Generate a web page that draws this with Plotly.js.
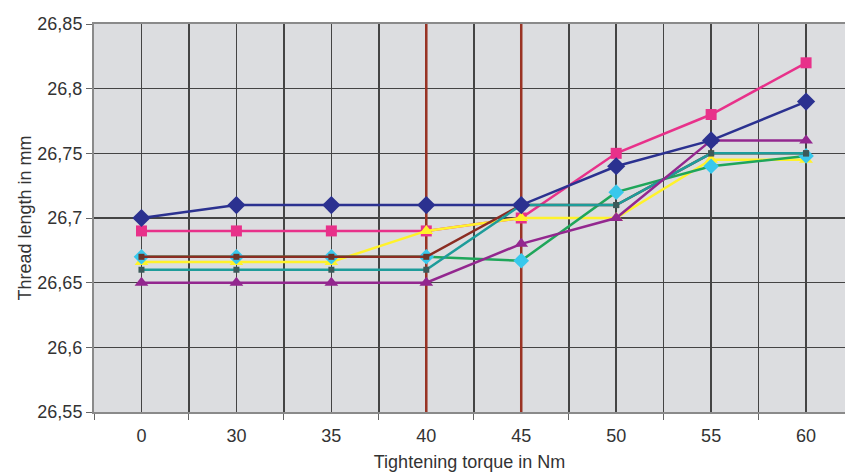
<!DOCTYPE html>
<html><head><meta charset="utf-8">
<script src="https://cdn.plot.ly/plotly-3.0.1.min.js"></script>
<style>html,body{margin:0;padding:0;background:#fff}#chart{width:845px;height:475px}</style>
</head><body><div id="chart"></div>
<script>
const categories = ['0','30','35','40','45','50','55','60'];
const navy      = [26.70, 26.71, 26.71, 26.71, 26.71, 26.74, 26.76, 26.79];
const pink      = [26.69, 26.69, 26.69, 26.69, 26.70, 26.75, 26.78, 26.82];
const yellow    = [26.666, 26.666, 26.666, 26.69, 26.70, 26.70, 26.745, 26.745];
const cyanGreen = [26.67, 26.67, 26.67, 26.67, 26.667, 26.72, 26.74, 26.748];
const brown     = [26.67, 26.67, 26.67, 26.67, 26.71, 26.71, 26.75, 26.75];
const teal      = [26.66, 26.66, 26.66, 26.66, 26.71, 26.71, 26.75, 26.75];
const purple    = [26.65, 26.65, 26.65, 26.65, 26.68, 26.70, 26.76, 26.76];
const markedTorques = ['40', '45'];
const yTickVals = [26.55, 26.6, 26.65, 26.7, 26.75, 26.8, 26.85];

const xIdx = categories.map((_, i) => i);
const boundaries = categories.map((_, i) => i - 0.5).concat([categories.length - 0.5]);
const yMin = yTickVals[0], yMax = yTickVals[yTickVals.length - 1];

function series(y, lineColor, symbol, markerColor, size, lineWidth) {
  return {
    x: xIdx, y: y, type: 'scatter', mode: 'lines+markers',
    line: {color: lineColor, width: lineWidth || 2.5},
    marker: {symbol: symbol, color: markerColor, size: size}
  };
}

const markerLines = markedTorques.map(t => ({
  x: [categories.indexOf(t), categories.indexOf(t)], y: [yMin, yMax],
  type: 'scatter', mode: 'lines', line: {color: '#9a3324', width: 2.5}
}));

const data = markerLines.concat([
  series(pink, '#e8318a', 'square', '#e8318a', 11),
  series(yellow, '#fff22a', 'triangle-up', '#fff22a', 12),
  series(cyanGreen, '#1fa65a', 'diamond', '#38c8ec', 12),
  series(brown, '#8b2c22', 'square', '#6b3428', 6),
  series(teal, '#1e9c9a', 'square', '#3c5a5a', 6),
  series(purple, '#93278f', 'triangle-up', '#93278f', 12),
  series(navy, '#2b3190', 'diamond', '#2b3190', 14)
]);

const layout = {
  width: 845, height: 475,
  margin: {l: 94, r: 0, t: 24, b: 63},
  paper_bgcolor: '#ffffff', plot_bgcolor: '#dcdde0',
  separators: ',.',
  showlegend: false,
  font: {family: 'Liberation Sans, Arial, sans-serif', size: 18, color: '#333333'},
  xaxis: {
    range: [-0.5, 7.41],
    tickvals: xIdx, ticktext: categories,
    showgrid: true, gridcolor: '#444444', gridwidth: 1.6,
    ticks: '', zeroline: false,
    showline: true, linecolor: '#8a8a8a', linewidth: 2, mirror: true,
    minor: {tickvals: boundaries, showgrid: true, gridcolor: '#444444', gridwidth: 1.6,
            ticks: 'outside', ticklen: 6, tickcolor: '#666666', tickwidth: 1},
    ticklabelstandoff: 6,
    title: {text: 'Tightening torque in Nm', font: {size: 18, color: '#333333'}, standoff: 11}
  },
  yaxis: {
    range: [yMin, yMax],
    tickvals: yTickVals, ticktext: yTickVals.map(v => String(v).replace('.', ',')),
    showgrid: true, gridcolor: '#444444', gridwidth: 1.6,
    ticks: 'outside', ticklen: 6, tickcolor: '#666666', tickwidth: 1,
    zeroline: false, showline: true, linecolor: '#8a8a8a', linewidth: 2,
    ticklabelstandoff: 0,
    title: {text: 'Thread length in mm', font: {size: 18, color: '#333333'}, standoff: 1}
  }
};

Plotly.newPlot('chart', data, layout, {displayModeBar: false, staticPlot: true});
</script>
</body></html>
